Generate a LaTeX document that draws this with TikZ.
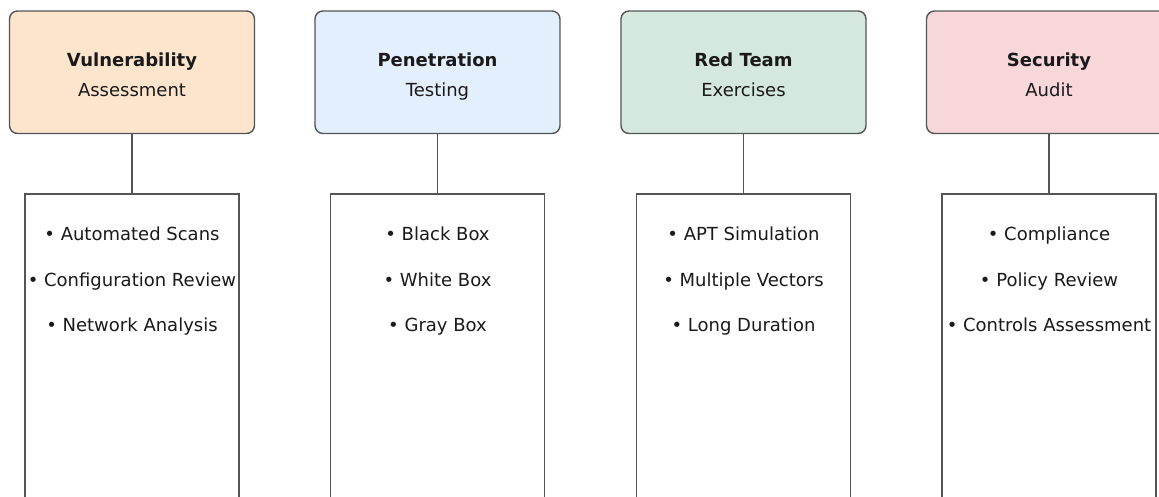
\documentclass[tikz,border=0pt]{standalone}
\usepackage{fontspec}
\setmainfont{DejaVu Sans}
\definecolor{edge}{HTML}{555555}
\definecolor{ink}{HTML}{1A1A1A}
\definecolor{peach}{HTML}{FDE4CC}
\definecolor{skyfill}{HTML}{E3EFFC}
\definecolor{mintfill}{HTML}{D4E8DF}
\definecolor{rosefill}{HTML}{F8D7DB}
\begin{document}
\begin{tikzpicture}[x=1pt,y=-1pt,
  head/.style={draw=edge, line width=1.4pt, rounded corners=8pt,
    minimum width=245pt, minimum height=122.5pt, inner sep=0pt},
  listbox/.style={draw=edge, line width=1.4pt, fill=white,
    minimum width=214pt, minimum height=366pt, inner sep=0pt},
  txt/.style={font=\fontsize{18}{22}\selectfont, text=ink, anchor=base, inner sep=0pt},
  link/.style={draw=edge, line width=1.4pt}]
\clip (0,0) rectangle (1159,496);
\fill[white] (0,0) rectangle (1159,496);

% header cards
\node[head, fill=peach]    (h1) at (132,72.25)   {};
\node[head, fill=skyfill]  (h2) at (437.5,72.25) {};
\node[head, fill=mintfill] (h3) at (743.5,72.25) {};
\node[head, fill=rosefill] (h4) at (1049,72.25)  {};

% item panels
\node[listbox] (l1) at (132,377)   {};
\node[listbox] (l2) at (437.5,377) {};
\node[listbox] (l3) at (743.5,377) {};
\node[listbox] (l4) at (1049,377)  {};

% connectors
\draw[link] (h1.south) -- (l1.north);
\draw[link] (h2.south) -- (l2.north);
\draw[link] (h3.south) -- (l3.north);
\draw[link] (h4.south) -- (l4.north);

% header titles
\node[txt] (t1a) at (132,66)   {\bfseries Vulnerability};
\node[txt] (t1b) at (132,96)   {Assessment};
\node[txt] (t2a) at (437.5,66) {\bfseries Penetration};
\node[txt] (t2b) at (437.5,96) {Testing};
\node[txt] (t3a) at (743.5,66) {\bfseries Red Team};
\node[txt] (t3b) at (743.5,96) {Exercises};
\node[txt] (t4a) at (1049,66)  {\bfseries Security};
\node[txt] (t4b) at (1049,96)  {Audit};

% bullet items
\node[txt] (i11) at (132,240.5) {• Automated Scans};
\node[txt] (i12) at (132,286)   {• Configuration Review};
\node[txt] (i13) at (132,331.5) {• Network Analysis};
\node[txt] (i21) at (437.5,240.5) {• Black Box};
\node[txt] (i22) at (437.5,286)   {• White Box};
\node[txt] (i23) at (437.5,331.5) {• Gray Box};
\node[txt] (i31) at (743.5,240.5) {• APT Simulation};
\node[txt] (i32) at (743.5,286)   {• Multiple Vectors};
\node[txt] (i33) at (743.5,331.5) {• Long Duration};
\node[txt] (i41) at (1049,240.5) {• Compliance};
\node[txt] (i42) at (1049,286)   {• Policy Review};
\node[txt] (i43) at (1049,331.5) {• Controls Assessment};
\end{tikzpicture}
\end{document}
